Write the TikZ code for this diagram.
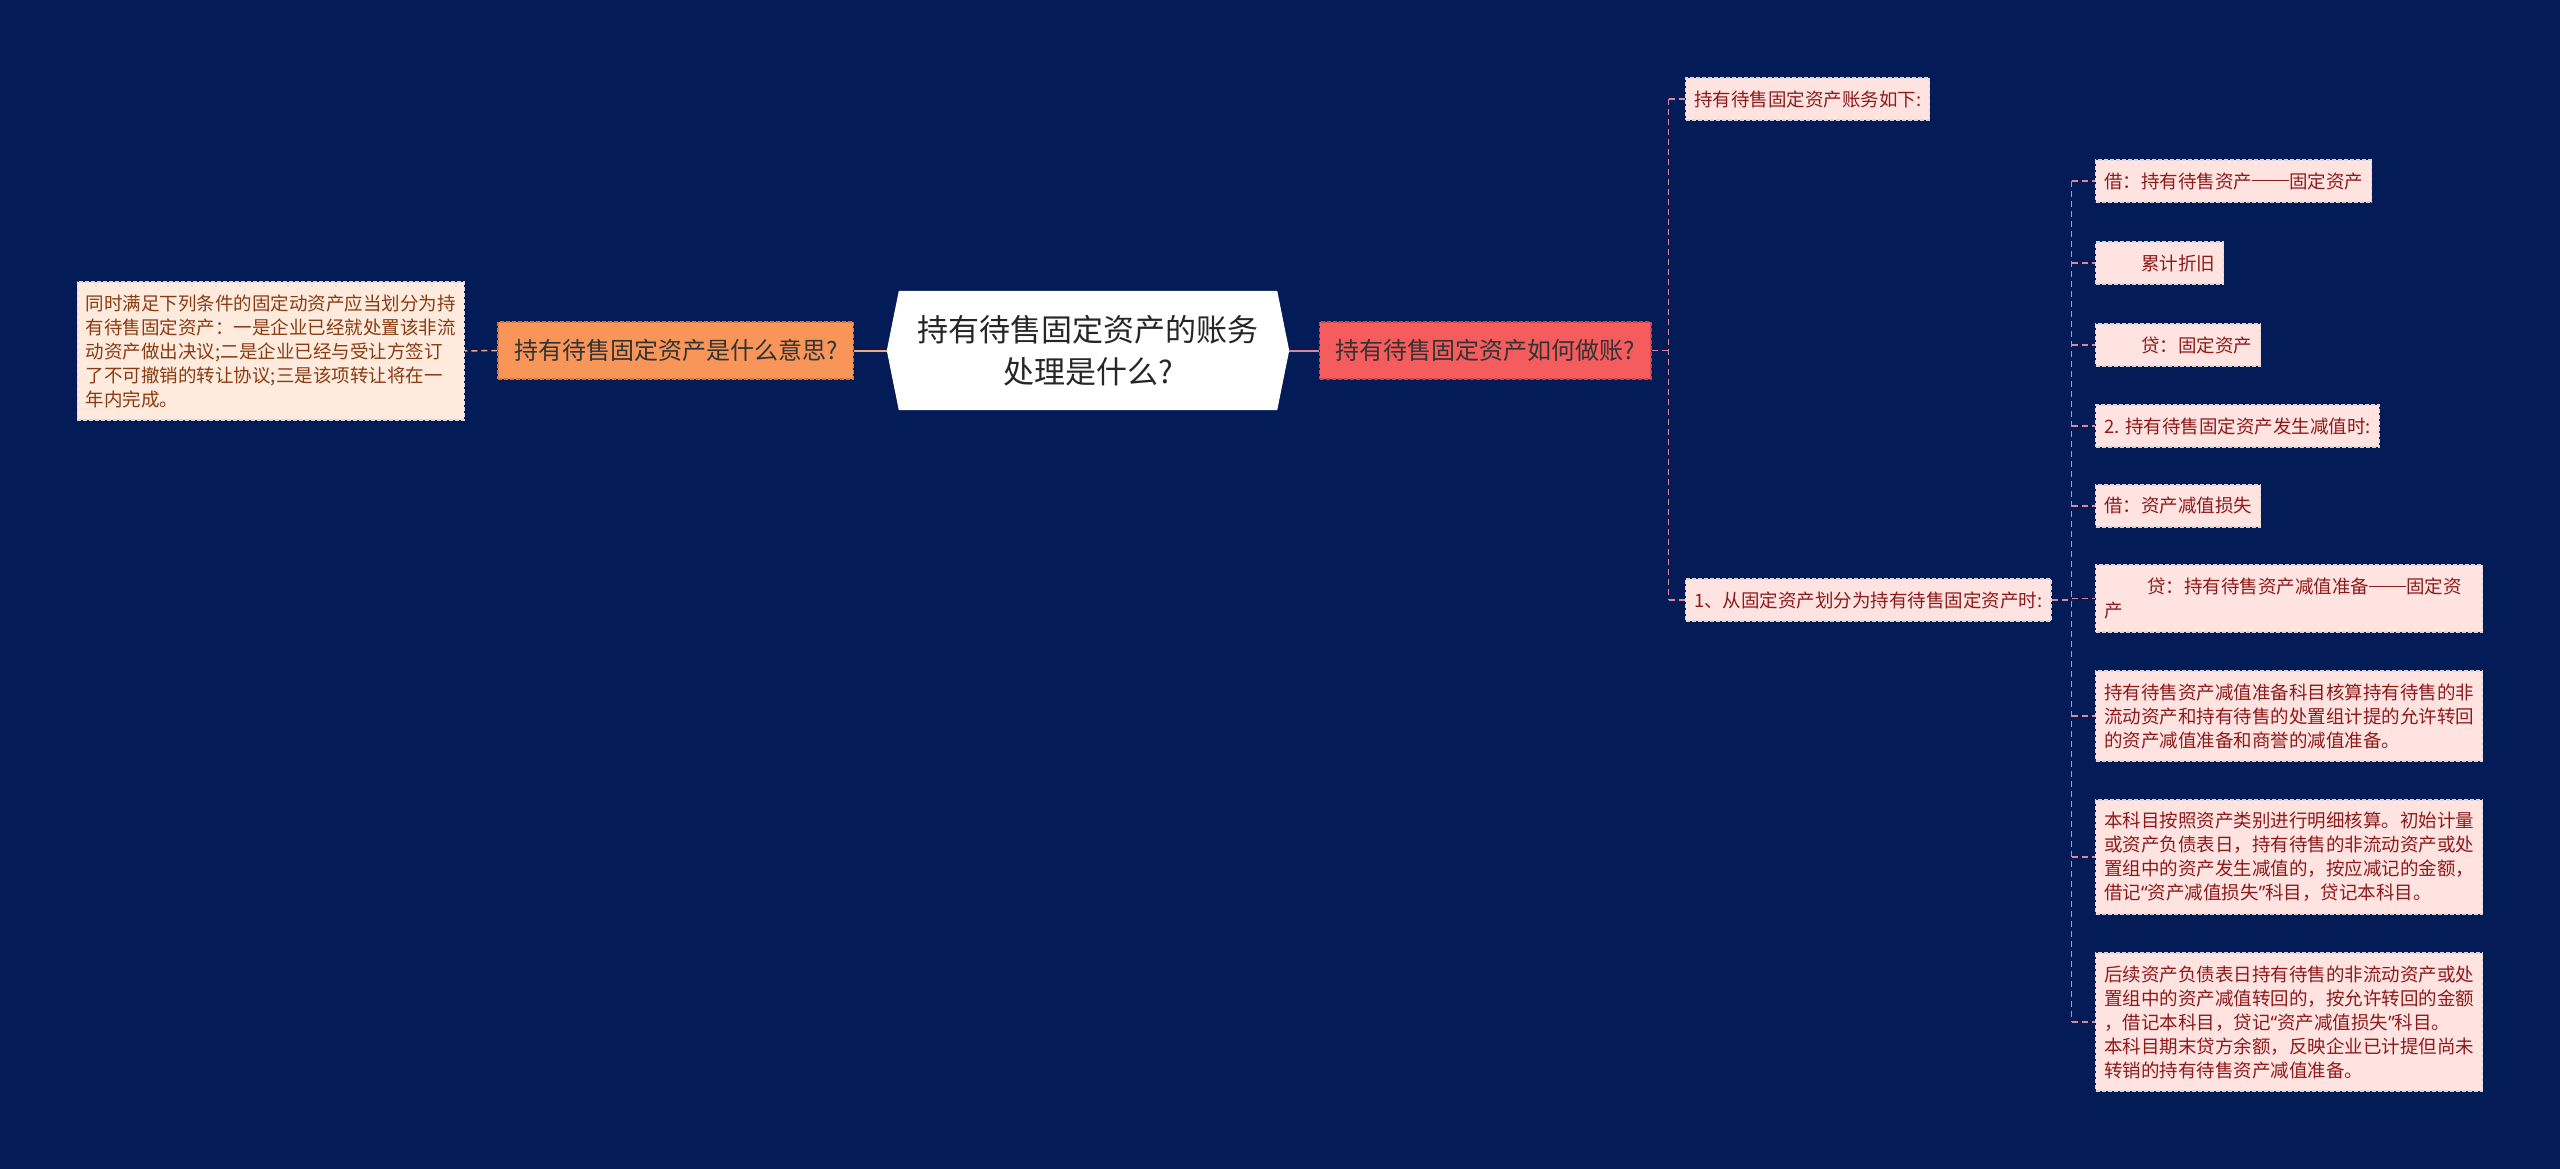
\documentclass[tikz,border=0pt]{standalone}
\usepackage{fontspec}
\setmainfont{Noto Sans CJK SC}
\newfontfamily\latq{Noto Sans}
\newcommand{\myLq}{{\latq “}}
\newcommand{\myRq}{{\latq ”}}
\newcommand{\ddash}{\rule[0.36em]{2em}{0.07em}}
\usetikzlibrary{calc,backgrounds}
\definecolor{bg}{HTML}{031B57}
\definecolor{leaffill}{HTML}{FFE3E1}
\definecolor{leaftext}{HTML}{8E1B1B}
\definecolor{leafborder}{HTML}{DCD6DA}
\definecolor{peachfill}{HTML}{FEEBDD}
\definecolor{peachtext}{HTML}{8A3B12}
\definecolor{orangefill}{HTML}{F8965A}
\definecolor{orangeborder}{HTML}{D8753A}
\definecolor{redfill}{HTML}{F45C5E}
\definecolor{redborder}{HTML}{C8474C}
\definecolor{connR}{HTML}{DE8596}
\definecolor{connL}{HTML}{F2A77E}
\begin{document}
\begin{tikzpicture}[x=1pt,y=-1pt,
  leaf/.style={draw=leafborder, dash pattern=on 4pt off 2pt, line width=1.2pt,
    fill=leaffill, text=leaftext, font=\fontsize{18.5}{24}\selectfont,
    align=left, inner xsep=8.5pt, inner ysep=0pt, anchor=west},
  peach/.style={leaf, fill=peachfill, text=peachtext},
  mid/.style={dash pattern=on 4pt off 2pt, line width=1.2pt,
    font=\fontsize{24}{30}\selectfont, inner xsep=16pt, inner ysep=0pt,
    minimum height=57pt},
  titlenode/.style={font=\fontsize{31}{42}\selectfont, align=center, text=black!85,
    minimum width=378pt, minimum height=119pt, inner sep=0pt},
  connsolidL/.style={draw=connL, line width=2pt},
  connsolidR/.style={draw=connR, line width=2pt},
  conndashL/.style={draw=connL, line width=1.5pt, dash pattern=on 6pt off 4pt},
  conndashR/.style={draw=connR, line width=1.5pt, dash pattern=on 6pt off 4pt}
]
\begin{scope}[on background layer]
  \fill[bg] (0,0) rectangle (2560,1169);
\end{scope}
\useasboundingbox (0,0) rectangle (2560,1169);

% centre
\node[titlenode] (c) at (1088,350.5) {持有待售固定资产的账务\\处理是什么?};
\begin{scope}[on background layer]
  \fill[white] (c.north west) -- (c.north east) -- ($(c.east)+(12,0)$)
    -- (c.south east) -- (c.south west) -- ($(c.west)+(-12,0)$) -- cycle;
\end{scope}

% left
\node[mid, draw=orangeborder, fill=orangefill, text=black!80, anchor=east] (q1) at (854,350.5) {持有待售固定资产是什么意思?};
\node[peach, anchor=east, minimum height=138pt] (d1) at (465,351) {同时满足下列条件的固定动资产应当划分为持\\有待售固定资产：一是企业已经就处置该非流\\动资产做出决议;二是企业已经与受让方签订\\了不可撤销的转让协议;三是该项转让将在一\\年内完成。};

% right
\node[mid, draw=redborder, fill=redfill, text=black!80, anchor=west] (q2) at (1319,350.5) {持有待售固定资产如何做账?};

\node[leaf, minimum height=42pt] (a1) at (1685,99) {持有待售固定资产账务如下:};
\node[leaf, minimum height=42pt] (a2) at (1685,600) {1、从固定资产划分为持有待售固定资产时:};

\node[leaf, minimum height=42pt] (b1) at (2095,181) {借：持有待售资产\ddash 固定资产};
\node[leaf, minimum height=42pt] (b2) at (2095,263) {\hspace*{37pt}累计折旧};
\node[leaf, minimum height=42pt] (b3) at (2095,345) {\hspace*{37pt}贷：固定资产};
\node[leaf, minimum height=42pt] (b4) at (2095,426) {2. 持有待售固定资产发生减值时:};
\node[leaf, minimum height=42pt] (b5) at (2095,506) {借：资产减值损失};
\node[leaf, minimum height=67pt, text width=370pt] (b6) at (2095,598.5) {\hspace*{43pt}贷：持有待售资产减值准备\ddash 固定资\\产};
\node[leaf, minimum height=90pt, text width=370pt] (b7) at (2095,716) {持有待售资产减值准备科目核算持有待售的非\\流动资产和持有待售的处置组计提的允许转回\\的资产减值准备和商誉的减值准备。};
\node[leaf, minimum height=114pt, text width=370pt] (b8) at (2095,857) {本科目按照资产类别进行明细核算。初始计量\\或资产负债表日，持有待售的非流动资产或处\\置组中的资产发生减值的，按应减记的金额，\\借记\myLq 资产减值损失\myRq 科目，贷记本科目。};
\node[leaf, minimum height=138pt, text width=370pt] (b9) at (2095,1022) {后续资产负债表日持有待售的非流动资产或处\\置组中的资产减值转回的，按允许转回的金额\\，借记本科目，贷记\myLq 资产减值损失\myRq 科目。\\本科目期末贷方余额，反映企业已计提但尚未\\转销的持有待售资产减值准备。};

% connectors
\draw[connsolidL] (c.west) ++(-12,0) -- (q1.east);
\draw[conndashL] (q1.west) -- (d1.east);
\draw[connsolidR] (c.east) ++(12,0) -- (q2.east -| q2.west);

\coordinate (j1) at ($(q2.east)+(17,0)$);
\draw[conndashR] (q2.east) -- (j1);
\draw[conndashR] (j1 |- a1.west) -- (j1 |- a2.west);
\draw[conndashR] (j1 |- a1.west) -- (a1.west);
\draw[conndashR] (j1 |- a2.west) -- (a2.west);

\coordinate (j2) at ($(a2.east)+(20,0)$);
\draw[conndashR] (a2.east) -- (j2);
\draw[conndashR] (j2 |- b1.west) -- (j2 |- b9.west);
\foreach \n in {b1,b2,b3,b4,b5,b6,b7,b8,b9}{
  \draw[conndashR] (j2 |- \n.west) -- (\n.west);
}
\end{tikzpicture}
\end{document}
